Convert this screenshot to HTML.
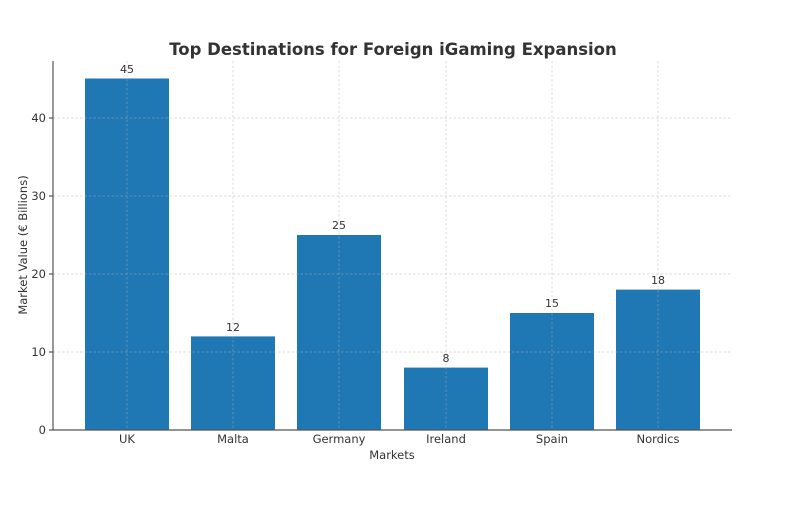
<!DOCTYPE html>
<html><head><style>body{margin:0;background:#fff}</style></head><body>
<svg width="800" height="500" xmlns="http://www.w3.org/2000/svg" font-family="DejaVu Sans, Liberation Sans, sans-serif">
<rect width="800" height="500" fill="#fff"/>
<text x="393" y="55" text-anchor="middle" font-size="16.5" font-weight="bold" fill="#333">Top Destinations for Foreign iGaming Expansion</text>
<g fill="#1f77b4">
<rect x="85" y="78.5" width="84" height="351.5"/>
<rect x="191" y="336.4" width="84" height="93.6"/>
<rect x="297" y="235" width="84" height="195"/>
<rect x="404" y="367.6" width="84" height="62.4"/>
<rect x="510" y="313" width="84" height="117"/>
<rect x="616" y="289.6" width="84" height="140.4"/>
</g>
<g stroke="#b0b0b0" stroke-width="0.7" stroke-dasharray="2.5,2" opacity="0.6">
<line x1="53" x2="732" y1="352" y2="352"/><line x1="53" x2="732" y1="274" y2="274"/>
<line x1="53" x2="732" y1="196" y2="196"/><line x1="53" x2="732" y1="118" y2="118"/>
<line x1="127" x2="127" y1="61" y2="430"/><line x1="233" x2="233" y1="61" y2="430"/>
<line x1="339" x2="339" y1="61" y2="430"/><line x1="446" x2="446" y1="61" y2="430"/>
<line x1="552" x2="552" y1="61" y2="430"/><line x1="658" x2="658" y1="61" y2="430"/>
</g>
<g stroke="#555" stroke-width="1.2">
<line x1="53" x2="53" y1="61" y2="430"/><line x1="53" x2="732" y1="430" y2="430"/>
<line x1="49" x2="53" y1="430" y2="430"/><line x1="49" x2="53" y1="352" y2="352"/><line x1="49" x2="53" y1="274" y2="274"/><line x1="49" x2="53" y1="196" y2="196"/><line x1="49" x2="53" y1="118" y2="118"/>
</g>
<g font-size="11.5" fill="#333" text-anchor="end">
<text x="46" y="434">0</text><text x="46" y="356">10</text><text x="46" y="278">20</text><text x="46" y="200">30</text><text x="46" y="122">40</text>
</g>
<g font-size="11.5" fill="#333" text-anchor="middle">
<text x="127" y="443">UK</text><text x="233" y="443">Malta</text><text x="339" y="443">Germany</text><text x="446" y="443">Ireland</text><text x="552" y="443">Spain</text><text x="658" y="443">Nordics</text>
<text x="392" y="459">Markets</text>
</g>
<g font-size="11" fill="#333" text-anchor="middle">
<text x="127" y="73">45</text><text x="233" y="331">12</text><text x="339" y="229">25</text><text x="446" y="362">8</text><text x="552" y="307">15</text><text x="658" y="284">18</text>
</g>
<text transform="translate(27,245) rotate(-90)" font-size="11.5" fill="#333" text-anchor="middle">Market Value (€ Billions)</text>
</svg>
</body></html>
